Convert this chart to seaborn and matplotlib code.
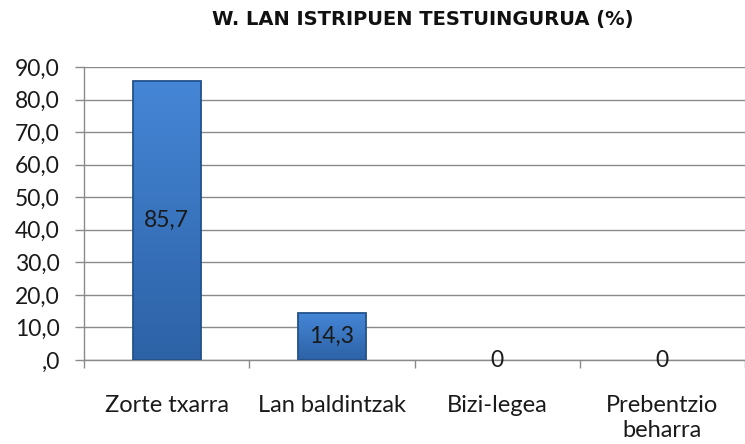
import numpy as np
import pandas as pd
import matplotlib
matplotlib.use('Agg')
import matplotlib.pyplot as plt
import seaborn as sns

# data
categories = ['Zorte txarra', 'Lan baldintzak', 'Bizi-legea', 'Prebentzio\nbeharra']
values = [85.7, 14.3, 0, 0]
value_labels = ['85,7', '14,3', '0', '0']
y_ticks = [0, 10, 20, 30, 40, 50, 60, 70, 80, 90]
y_tick_labels = [',0', '10,0', '20,0', '30,0', '40,0', '50,0', '60,0', '70,0', '80,0', '90,0']
title = 'W. LAN ISTRIPUEN TESTUINGURUA (%)'

sns.set_style('white')
plt.rcParams['font.family'] = ['Lato', 'DejaVu Sans']

df = pd.DataFrame({'cat': categories, 'val': values})

fig = plt.figure(figsize=(7.45, 4.44), dpi=100)
ax = fig.add_axes([84 / 745, 84 / 444, 1 - 84 / 745, 293 / 444])

sns.barplot(data=df, x='cat', y='val', ax=ax, color='#3C77C6',
            width=0.41, edgecolor='#23528C', linewidth=1.3, saturation=1)

# vertical gradient inside each bar, a bit like the bevelled Excel bars
grad = np.linspace(0, 1, 256).reshape(-1, 1)
cmap = matplotlib.colors.LinearSegmentedColormap.from_list('b', ['#2D62A6', '#4586D6'])
for p, v in zip(ax.patches, values):
    if v == 0:
        p.set_linewidth(0)
        continue
    x0, y0 = p.get_x(), p.get_y()
    im = ax.imshow(grad, extent=[x0, x0 + p.get_width(), y0, y0 + p.get_height()],
                   origin='lower', cmap=cmap, aspect='auto', zorder=2)
    im.set_clip_path(p)
    p.set_facecolor('none')
    p.set_zorder(3)

ax.set_xlim(-0.5, 3.365)
ax.set_ylim(0, 90)
ax.set_yticks(y_ticks)
ax.set_yticklabels(y_tick_labels)
ax.yaxis.grid(True, color='#8a8a8a', linewidth=1)
ax.set_axisbelow(True)
ax.set_xlabel('')
ax.set_ylabel('')

for s in ['top', 'right']:
    ax.spines[s].set_visible(False)
for s in ['left', 'bottom']:
    ax.spines[s].set_color('#8a8a8a')
    ax.spines[s].set_linewidth(1)

ax.tick_params(axis='y', length=6.5, width=1, color='#8a8a8a', pad=11,
               labelsize=16.5, labelcolor='#1a1a1a', left=True)
ax.set_xticks(range(len(categories)))
ax.set_xticklabels(categories, linespacing=1.25)
ax.set_xticks([-0.5, 0.5, 1.5, 2.5, 3.5], minor=True)
ax.tick_params(axis='x', which='major', length=0, pad=25, labelsize=17,
               labelcolor='#1a1a1a')
ax.tick_params(axis='x', which='minor', length=6, width=1, color='#8a8a8a',
               bottom=True)

for i, (v, lab) in enumerate(zip(values, value_labels)):
    ax.text(i, v / 2, lab, ha='center', va='center', fontsize=16.5,
            color='#1a1a1a', clip_on=False, zorder=5)

fig.text(423 / 745, 1 - 20 / 444, title, ha='center', va='center',
         fontsize=14, fontweight='bold', family='DejaVu Sans', color='#111111')

fig.savefig('out.png', dpi=100, facecolor='white')
